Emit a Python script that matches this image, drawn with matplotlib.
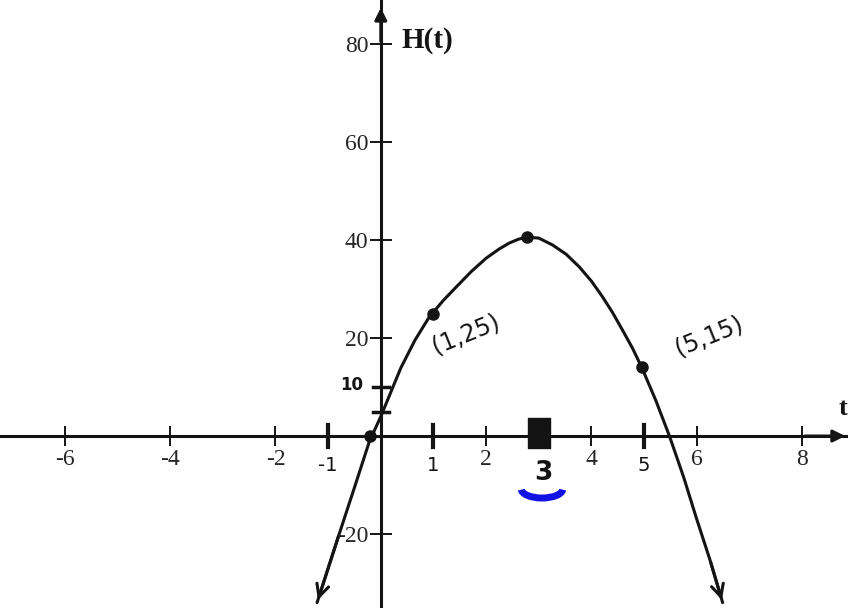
import matplotlib
matplotlib.use("Agg")
import matplotlib.pyplot as plt
from matplotlib.patches import Arc
from matplotlib.path import Path

# ---- data ----
t_ticks = [-6, -4, -2, 2, 4, 6, 8]
t_tick_labels = ["-6", "-4", "-2", "2", "4", "6", "8"]
h_ticks = [-20, 20, 40, 60, 80]
h_tick_labels = ["-20", "20", "40", "60", "80"]

curve_t = [-1.21, -0.79, -0.50, -0.22, 0.00, 0.38, 0.65, 0.92, 1.18, 1.43,
           1.72, 2.00, 2.25, 2.44, 2.62, 2.78, 3.00, 3.26, 3.52, 3.77,
           4.00, 4.21, 4.40, 4.59, 4.78, 4.95, 5.22, 5.48, 5.75, 5.99, 6.25, 6.49]
curve_h = [-34.0, -20.0, -10.5, -1.2, 4.0, 13.9, 19.6, 24.3, 27.6, 30.4,
           33.6, 36.3, 38.2, 39.4, 40.2, 40.6, 40.4, 39.0, 37.1, 34.5,
           31.6, 28.4, 25.2, 21.6, 17.9, 14.1, 7.3, 0.0, -8.4, -16.7, -25.3, -34.0]

dot_t = [-0.2, 1.0, 2.78, 4.95]
dot_h = [0.0, 25.0, 40.6, 14.1]

hand_t_marks = [-1, 1, 5]
hand_t_labels = ["-1", "1", "5"]
hand_h_marks = [5, 10]
point_labels = ["(1,25)", "(5,15)"]
point_label_pos = [(1.62, 20.8), (6.24, 20.4)]
vertex_t = 3

# ---- figure ----
fig = plt.figure(figsize=(8.48, 6.08), dpi=100)
ax = fig.add_axes([0, 0, 1, 1])
ax.set_xlim(-7.23, 8.87)
ax.set_ylim(-35.1, 89.0)

ink = "#141414"
label_ink = "#262626"
serif = ["Liberation Serif", "DejaVu Serif"]
hand = ["DejaVu Sans"]

for side in ("top", "right"):
    ax.spines[side].set_visible(False)
ax.spines["left"].set_position(("data", 0))
ax.spines["bottom"].set_position(("data", 0))
for side in ("left", "bottom"):
    ax.spines[side].set_linewidth(2.2)
    ax.spines[side].set_color(ink)

ax.set_xticks(t_ticks)
ax.set_xticklabels(t_tick_labels, fontfamily=serif, fontsize=17)
ax.set_yticks(h_ticks)
ax.set_yticklabels(h_tick_labels, fontfamily=serif, fontsize=17)
ax.tick_params(axis="x", direction="inout", length=15, width=1.4, pad=2, colors=ink, labelcolor=label_ink)
ax.tick_params(axis="y", direction="inout", length=16, width=1.4, pad=1, colors=ink, labelcolor=label_ink)

# axis arrows
ax.annotate("", xy=(0, 88.0), xytext=(0, 80), arrowprops=dict(arrowstyle="-|>", color=ink, lw=2.2, mutation_scale=18))
ax.annotate("", xy=(8.87, 0), xytext=(8.0, 0), arrowprops=dict(arrowstyle="-|>", color=ink, lw=2.2, mutation_scale=18))

ax.text(0.40, 80.8, "H(t)", fontfamily=serif, fontweight="bold", fontsize=21, ha="left", va="center", color=ink)
ax.text(8.78, 5.6, "t", fontfamily=serif, fontweight="bold", fontsize=19, ha="center", va="center", color=ink)

# curve
ax.plot(curve_t, curve_h, color=ink, lw=2.2, solid_capstyle="round", solid_joinstyle="round")
ax.annotate("", xy=(curve_t[0], curve_h[0]), xytext=(curve_t[1], curve_h[1]),
            arrowprops=dict(arrowstyle="->", color=ink, lw=2.2, mutation_scale=22))
ax.annotate("", xy=(curve_t[-1], curve_h[-1]), xytext=(curve_t[-2], curve_h[-2]),
            arrowprops=dict(arrowstyle="->", color=ink, lw=2.2, mutation_scale=22))

ax.plot(dot_t, dot_h, "o", color=ink, markersize=8)
blob = Path([(-0.37, -0.5), (0.37, -0.5), (0.37, 0.5), (-0.37, 0.5), (-0.37, -0.5)],
            [Path.MOVETO, Path.LINETO, Path.LINETO, Path.LINETO, Path.CLOSEPOLY])
ax.plot([vertex_t], [0.6], marker=blob, color=ink, markersize=22)

# hand-drawn ticks and labels
for t, lab in zip(hand_t_marks, hand_t_labels):
    ax.plot([t, t], [-2.2, 2.2], color=ink, lw=3)
    ax.text(t, -4.0, lab, fontfamily=hand, fontsize=14, ha="center", va="top", color=ink)
for h in hand_h_marks:
    ax.plot([-0.15, 0.15], [h, h], color=ink, lw=2.5)
ax.text(-0.55, 10.4, "10", fontfamily=hand, fontsize=12, fontweight="bold", ha="center", va="center", color=ink)
ax.text(vertex_t + 0.09, -4.8, "3", fontfamily=hand, fontsize=19, fontweight="bold", ha="center", va="top", color=ink)
ax.add_patch(Arc((vertex_t + 0.06, -10.8), 0.79, 3.7, theta1=200, theta2=340, color="#1212e6", lw=5))

for lab, (t, h) in zip(point_labels, point_label_pos):
    ax.text(t, h, lab, fontfamily=hand, fontsize=17, rotation=22, ha="center", va="center", color=ink)

fig.savefig("out.png", dpi=100, facecolor="white")
